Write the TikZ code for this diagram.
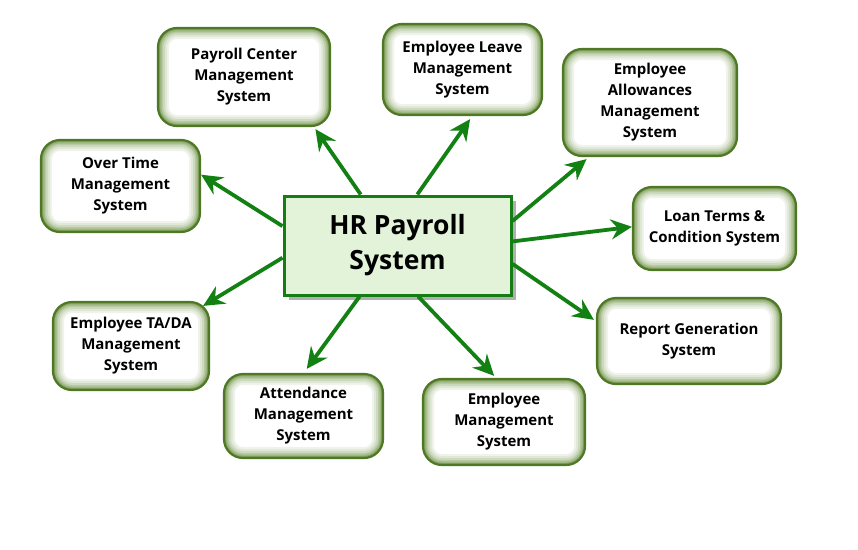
\documentclass[tikz,border=0pt]{standalone}
\usepackage{fontspec}
\setmainfont{Open Sans}
\usetikzlibrary{calc,arrows.meta,shadows}
\definecolor{arrgreen}{RGB}{18,128,18}
\definecolor{boxedge}{RGB}{78,120,38}
\definecolor{glow}{RGB}{100,138,55}
\definecolor{hrfill}{RGB}{226,243,217}
\definecolor{hredge}{RGB}{20,125,20}
\tikzset{
  subbox/.style={rectangle, rounded corners=19pt, draw=boxedge, line width=2.2pt,
    fill=white, align=center, inner sep=0pt,
    font=\fontsize{15}{21}\selectfont\bfseries,
    path picture={\foreach \w/\c in {22/10,18/20,14/32,10/46,7/62,4/80}{
      \draw[line width=\w pt, glow!\c!white, rounded corners=19pt]
        (path picture bounding box.north west) rectangle (path picture bounding box.south east);}}},
  hrbox/.style={rectangle, draw=hredge, line width=3pt, fill=hrfill, align=center,
    inner sep=0pt, font=\fontsize{26.5}{35}\selectfont\bfseries,
    drop shadow={shadow xshift=5pt, shadow yshift=-5pt, fill=gray!70, opacity=0.9}},
  arr/.style={draw=arrgreen, line width=3.8pt, -{Stealth[length=21pt,width=20pt,inset=7pt]}}
}
\begin{document}
\begin{tikzpicture}[x=1pt,y=-1pt]
\useasboundingbox (0,0) rectangle (858,549);
\node[hrbox, minimum width=227pt, minimum height=99pt] (hr) at (397.5,245.5) {HR Payroll\\System};
\node[subbox, minimum width=172pt, minimum height=98pt] (pc) at (244,77) {Payroll Center\\Management\\System};
\node[subbox, minimum width=159pt, minimum height=91pt] (el) at (462.5,69.5) {Employee Leave\\Management\\System};
\node[subbox, minimum width=174pt, minimum height=107pt] (ea) at (650,102.5) {Employee\\Allowances\\Management\\System};
\node[subbox, minimum width=159pt, minimum height=92pt] (ot) at (120.5,186) {Over Time\\Management\\System};
\node[subbox, minimum width=163pt, minimum height=83pt] (lt) at (714.5,228.5) {Loan Terms \&\\Condition System};
\node[subbox, minimum width=156pt, minimum height=88pt] (ta) at (131,346) {Employee TA/DA\\Management\\System};
\node[subbox, minimum width=184pt, minimum height=86pt] (rg) at (689,341) {Report Generation\\System};
\node[subbox, minimum width=159pt, minimum height=84pt] (at) at (303.5,416) {Attendance\\Management\\System};
\node[subbox, minimum width=162pt, minimum height=86pt] (em) at (504,422) {Employee\\Management\\System};
\draw[arr] ($(hr.north west)!0.34!(hr.north east)$) -- ($(pc.south west)!0.91!(pc.south east)+(0,2)$);
\draw[arr] ($(hr.north west)!0.586!(hr.north east)$) -- ($(el.south west)!0.547!(el.south east)+(0,3)$);
\draw[arr] ($(hr.north east)!0.26!(hr.south east)$) -- ($(ea.south west)!0.14!(ea.south east)+(0,2)$);
\draw[arr] ($(hr.north east)!0.46!(hr.south east)$) -- ($(lt.north west)!0.48!(lt.south west)$);
\draw[arr] ($(hr.north east)!0.68!(hr.south east)$) -- ($(rg.north west)!0.26!(rg.south west)+(-2,0)$);
\draw[arr] ($(hr.south west)!0.59!(hr.south east)$) -- ($(em.north west)!0.44!(em.north east)+(0,-2)$);
\draw[arr] ($(hr.south west)!0.335!(hr.south east)$) -- ($(at.north west)!0.52!(at.north east)+(0,-4)$);
\draw[arr] ($(hr.north west)!0.62!(hr.south west)$) -- ($(ta.north east)+(-7,5)$);
\draw[arr] ($(hr.north west)!0.31!(hr.south west)$) -- ($(ot.north east)!0.38!(ot.south east)$);
\end{tikzpicture}
\end{document}
